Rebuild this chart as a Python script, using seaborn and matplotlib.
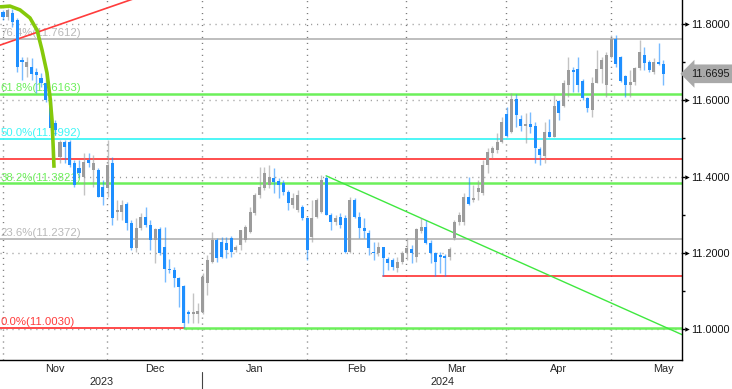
"""Candlestick chart with Fibonacci retracement levels and hand-drawn trend lines."""

import matplotlib

matplotlib.use("Agg")
import matplotlib.pyplot as plt
import matplotlib.transforms as mtransforms
import numpy as np
import pandas as pd
import seaborn as sns

# --- data ------------------------------------------------------------------
opens = [
    11.832, 11.818, 11.829, 11.811, 11.706, 11.687, 11.687, 11.674, 11.659, 11.645,
    11.601, 11.541, 11.452, 11.491, 11.491, 11.436, 11.423, 11.399, 11.444, 11.417,
    11.417, 11.373, 11.370, 11.436, 11.307, 11.307, 11.328, 11.278, 11.213, 11.265,
    11.294, 11.273, 11.234, 11.263, 11.216, 11.158, 11.155, 11.134, 11.113, 11.045,
    11.040, 11.040, 11.045, 11.121, 11.176, 11.234, 11.229, 11.226, 11.239, 11.208,
    11.221, 11.234, 11.255, 11.305, 11.352, 11.370, 11.378, 11.396, 11.389, 11.383,
    11.360, 11.326, 11.313, 11.320, 11.292, 11.242, 11.294, 11.307, 11.396, 11.299,
    11.281, 11.294, 11.292, 11.202, 11.339, 11.294, 11.265, 11.252, 11.202, 11.200,
    11.216, 11.184, 11.182, 11.161, 11.176, 11.200, 11.210, 11.189, 11.258, 11.268,
    11.226, 11.200, 11.195, 11.192, 11.189, 11.239, 11.281, 11.281, 11.347, 11.339,
    11.360, 11.357, 11.431, 11.462, 11.470, 11.491, 11.564, 11.517, 11.604, 11.551,
    11.533, 11.538, 11.533, 11.472, 11.454, 11.517, 11.504, 11.598, 11.585, 11.640,
    11.680, 11.682, 11.651, 11.606, 11.575, 11.645, 11.682, 11.640, 11.714, 11.761,
    11.714, 11.664, 11.640, 11.648, 11.685, 11.719, 11.700, 11.674, 11.700, 11.695,
]
highs = [
    11.837, 11.842, 11.839, 11.816, 11.714, 11.714, 11.711, 11.685, 11.672, 11.672,
    11.606, 11.548, 11.496, 11.496, 11.496, 11.444, 11.444, 11.462, 11.462, 11.457,
    11.423, 11.391, 11.496, 11.452, 11.339, 11.339, 11.334, 11.286, 11.292, 11.305,
    11.320, 11.286, 11.265, 11.268, 11.268, 11.184, 11.163, 11.137, 11.116, 11.050,
    11.095, 11.069, 11.147, 11.195, 11.255, 11.239, 11.242, 11.242, 11.245, 11.221,
    11.260, 11.273, 11.320, 11.357, 11.425, 11.425, 11.431, 11.423, 11.396, 11.391,
    11.365, 11.357, 11.365, 11.326, 11.294, 11.339, 11.344, 11.404, 11.402, 11.305,
    11.299, 11.305, 11.299, 11.347, 11.344, 11.307, 11.292, 11.260, 11.229, 11.229,
    11.216, 11.189, 11.187, 11.189, 11.205, 11.239, 11.221, 11.265, 11.292, 11.286,
    11.234, 11.202, 11.202, 11.197, 11.216, 11.286, 11.307, 11.357, 11.399, 11.378,
    11.391, 11.444, 11.475, 11.480, 11.514, 11.556, 11.583, 11.619, 11.617, 11.562,
    11.567, 11.569, 11.543, 11.478, 11.543, 11.551, 11.614, 11.601, 11.653, 11.714,
    11.687, 11.714, 11.656, 11.609, 11.661, 11.732, 11.714, 11.727, 11.771, 11.771,
    11.716, 11.666, 11.680, 11.687, 11.758, 11.740, 11.706, 11.711, 11.750, 11.706,
]
lows = [
    11.811, 11.811, 11.792, 11.674, 11.653, 11.661, 11.653, 11.619, 11.635, 11.596,
    11.522, 11.509, 11.436, 11.436, 11.425, 11.373, 11.399, 11.352, 11.425, 11.373,
    11.347, 11.326, 11.347, 11.273, 11.286, 11.286, 11.260, 11.208, 11.202, 11.260,
    11.268, 11.208, 11.174, 11.195, 11.124, 11.147, 11.111, 11.058, 11.003, 11.016,
    11.016, 11.016, 11.040, 11.090, 11.174, 11.176, 11.187, 11.187, 11.189, 11.202,
    11.208, 11.229, 11.252, 11.299, 11.344, 11.365, 11.370, 11.357, 11.344, 11.352,
    11.313, 11.318, 11.307, 11.286, 11.182, 11.229, 11.292, 11.305, 11.299, 11.260,
    11.273, 11.265, 11.200, 11.200, 11.292, 11.239, 11.239, 11.195, 11.182, 11.192,
    11.140, 11.155, 11.155, 11.150, 11.171, 11.182, 11.174, 11.176, 11.252, 11.224,
    11.174, 11.140, 11.147, 11.140, 11.182, 11.234, 11.273, 11.273, 11.326, 11.334,
    11.339, 11.352, 11.410, 11.449, 11.462, 11.488, 11.504, 11.514, 11.530, 11.520,
    11.488, 11.514, 11.436, 11.431, 11.436, 11.504, 11.504, 11.548, 11.583, 11.609,
    11.622, 11.622, 11.601, 11.569, 11.556, 11.645, 11.645, 11.609, 11.711, 11.687,
    11.648, 11.609, 11.609, 11.640, 11.680, 11.680, 11.674, 11.669, 11.693, 11.640,
]
closes = [
    11.818, 11.837, 11.805, 11.687, 11.700, 11.700, 11.669, 11.666, 11.645, 11.601,
    11.528, 11.522, 11.491, 11.478, 11.431, 11.378, 11.410, 11.438, 11.436, 11.436,
    11.347, 11.347, 11.431, 11.292, 11.313, 11.326, 11.278, 11.213, 11.265, 11.294,
    11.273, 11.234, 11.263, 11.200, 11.158, 11.155, 11.134, 11.111, 11.016, 11.040,
    11.045, 11.048, 11.137, 11.182, 11.234, 11.187, 11.189, 11.208, 11.202, 11.216,
    11.260, 11.268, 11.307, 11.352, 11.373, 11.410, 11.399, 11.386, 11.378, 11.360,
    11.331, 11.344, 11.352, 11.292, 11.208, 11.292, 11.339, 11.391, 11.299, 11.281,
    11.292, 11.273, 11.202, 11.339, 11.294, 11.265, 11.258, 11.213, 11.200, 11.216,
    11.187, 11.174, 11.163, 11.176, 11.200, 11.213, 11.200, 11.263, 11.268, 11.226,
    11.200, 11.176, 11.189, 11.187, 11.210, 11.281, 11.299, 11.347, 11.328, 11.344,
    11.370, 11.431, 11.465, 11.475, 11.491, 11.543, 11.507, 11.604, 11.562, 11.533,
    11.538, 11.530, 11.475, 11.457, 11.517, 11.504, 11.585, 11.567, 11.645, 11.680,
    11.674, 11.640, 11.606, 11.580, 11.645, 11.682, 11.706, 11.719, 11.761, 11.695,
    11.651, 11.640, 11.648, 11.685, 11.727, 11.698, 11.680, 11.700, 11.695, 11.6695,
]
last_price = 11.6695
holidays = ["2023-12-25", "2024-01-01"]

fib_labels = ["0.0%", "23.6%", "38.2%", "50.0%", "61.8%", "76.4%"]
fib_values = [11.0030, 11.2372, 11.3821, 11.4992, 11.6163, 11.7612]
fib_colors = ["#ff3c3c", "#b9b9b9", "#6cf05a", "#3ff6f6", "#6cf05a", "#b9b9b9"]

resistance = 11.446          # red line across the chart
support = 11.140             # red line starting at the February low
support_start = 80
low_line_start = 38          # green line from the December low
trend_x = [68, 143]          # falling green trend line
trend_y = [11.402, 10.985]
rise_x = [-1, 30]            # red rising line, top left
rise_y = [11.743, 11.877]
arc_x = [-0.63, 1.47, 3.58, 5.68, 7.16, 8.21, 9.26, 9.89, 10.32, 10.53, 10.74]
arc_y = [11.845, 11.847, 11.837, 11.816, 11.784, 11.732, 11.672, 11.609, 11.548, 11.488, 11.423]

y_major = [11.0, 11.2, 11.4, 11.6, 11.8]
y_minor = [11.1, 11.3, 11.5, 11.7]

# --- styling ----------------------------------------------------------------
BLUE = "#1e8fff"
GREY = "#9c9c9c"
GRID = "#7a7a7a"
FS = 7.8

sns.set_theme(style="white")
plt.rcParams["font.family"] = ["Liberation Sans", "DejaVu Sans"]
plt.rcParams["font.size"] = FS

dates = pd.bdate_range("2023-11-01", "2024-06-30")
dates = dates[~dates.isin(pd.to_datetime(holidays))][: len(closes)]
x = np.arange(len(closes))
xmin, xmax = -0.63, 142.9
ymin, ymax = 10.919, 11.863

fig = plt.figure(figsize=(7.32, 3.89), dpi=100)
ax = fig.add_axes([0, 29 / 389, 682 / 732, 360 / 389])
ax.set_xlim(xmin, xmax)
ax.set_ylim(ymin, ymax)

# month boundaries from the trading dates
periods = pd.Series(dates.to_period("M"))
month_starts = periods.index[periods != periods.shift()].tolist()
month_names = [dates[i].strftime("%b") for i in month_starts]
month_mid = [(a + b) / 2 for a, b in zip(month_starts, month_starts[1:] + [month_starts[-1] + 22])]

dot = (0, (0.8, 3.5))
for v in y_major:
    ax.axhline(v, color="#999999", lw=1, ls=dot, zorder=1)
for i in month_starts:
    ax.axvline(i - 0.1, color=GRID, lw=1, ls=dot, zorder=1)

# Fibonacci levels and labels
for lab, v, c in zip(fib_labels, fib_values, fib_colors):
    lw = 1.8 if c == "#6cf05a" else 1.3
    if lab == "0.0%":
        ax.plot([xmin, low_line_start], [v, v], color=c, lw=lw, zorder=2)
    else:
        ax.axhline(v, color=c, lw=lw, zorder=2)
    ax.text(xmin + 0.15, v + 0.002, f"{lab}({v:.4f})", color=c, fontsize=8.2,
            ha="left", va="bottom", zorder=2)

ax.plot([low_line_start, xmax], [fib_values[0], fib_values[0]], color="#6cf05a", lw=1.8, zorder=2)
ax.axhline(resistance, color="#ff3030", lw=1.2, zorder=2)
ax.plot([support_start, xmax], [support, support], color="#ff3030", lw=1.2, zorder=2)
sns.lineplot(x=trend_x, y=trend_y, ax=ax, color="#3fe83f", lw=1.0, zorder=2)
sns.lineplot(x=rise_x, y=rise_y, ax=ax, color="#ff3c3c", lw=1.2, zorder=2)

# candles
o, h, l, c = map(np.asarray, (opens, highs, lows, closes))
colors = np.where(c >= o, GREY, BLUE)
ax.vlines(x, l, h, colors=colors, lw=1, alpha=0.6, zorder=3)
body_low = np.minimum(o, c)
body_h = np.maximum(np.abs(c - o), 0.0018)
ax.bar(x, body_h, bottom=body_low, width=0.64, color=colors, linewidth=0, zorder=4)

# curved annotation
ax.plot(arc_x, arc_y, color="#85c90a", lw=2.6, solid_capstyle="butt", zorder=6)

# axes frame
for side in ("top", "left"):
    ax.spines[side].set_visible(False)
for side in ("right", "bottom"):
    ax.spines[side].set_color("black")
    ax.spines[side].set_linewidth(1)

ax.yaxis.tick_right()
ax.set_yticks(y_major)
ax.set_yticklabels([f"{v:.4f}" for v in y_major], fontsize=FS, color="#111111")
ax.set_yticks(y_minor, minor=True)
ax.tick_params(axis="y", which="both", direction="out", length=2.5, width=1,
               color="black", pad=4)
tri = mtransforms.blended_transform_factory(ax.transAxes, ax.transData)
ax.scatter([1 + 5 / 682] * len(y_major), y_major, marker=">", s=10, color="black",
           transform=tri, clip_on=False, zorder=7, linewidths=0)

ax.set_xticks([i - 0.1 for i in month_starts])
ax.set_xticklabels([])
ax.tick_params(axis="x", direction="out", length=3, width=1, color="black")
xt = mtransforms.blended_transform_factory(ax.transData, ax.transAxes)
for m, name in zip(month_mid, month_names):
    ax.text(m, -9 / 360, name, transform=xt, ha="center", va="center", fontsize=FS)

year_split = month_starts[month_names.index("Jan")]
ax.text((xmin + year_split) / 2, -22 / 360, "2023", transform=xt, ha="center",
        va="center", fontsize=FS)
ax.text((year_split + xmax) / 2, -22 / 360, "2024", transform=xt, ha="center",
        va="center", fontsize=FS)
ax.plot([year_split - 0.1] * 2, [-12 / 360, -29 / 360], color="#444444", lw=0.8,
        transform=xt, clip_on=False)

# last price tag
ax.text(1 + 9 / 682, last_price, f"{last_price:.4f}", transform=tri, ha="left",
        va="center", fontsize=FS, color="#1a1a1a", zorder=8,
        bbox=dict(boxstyle="larrow,pad=0.4", fc="#a9a9a9", ec="none"))

fig.savefig("out.png", dpi=100)
